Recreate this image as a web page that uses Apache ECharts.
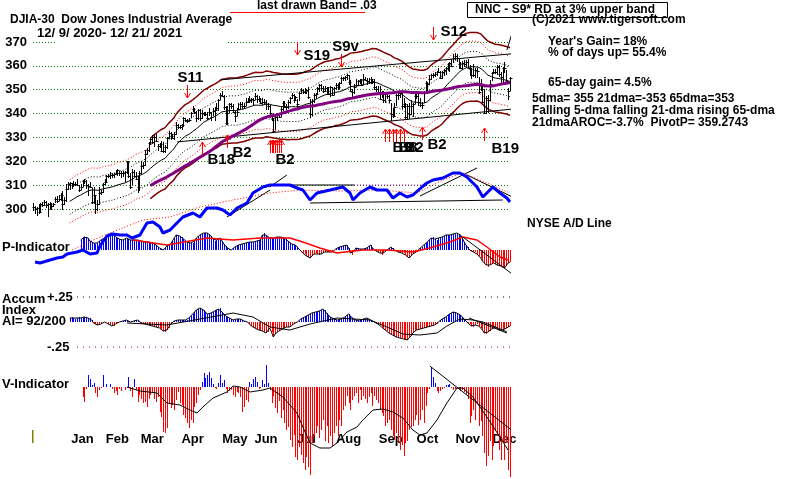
<!DOCTYPE html>
<html>
<head>
<meta charset="utf-8">
<script src="https://cdn.jsdelivr.net/npm/echarts@6/dist/echarts.min.js"></script>
<style>
  html, body { margin: 0; padding: 0; background: #fff; }
  #chart { width: 800px; height: 479px; }
</style>
</head>
<body>
<div id="chart"></div>
<script>
// DJIA daily bars, 12/9/2020 - 12/21/2021 (values /100)
const closes = [
  300.68,299.99,300.46,298.61,301.99,301.54,303.03,301.79,302.16,300.15,301.29,301.99,304.03,303.35,304.09,306.06,
  302.23,303.92,308.29,310.41,310.97,310.08,310.68,310.61,309.91,308.14,309.30,311.88,311.76,309.97,309.60,309.37,303.03,306.04,299.83,
  302.12,306.87,307.24,310.56,311.48,313.86,313.76,314.38,314.30,314.58,315.23,316.14,314.93,314.94,315.22,315.37,319.62,314.02,309.32,
  315.35,313.92,312.70,309.24,314.96,318.02,318.32,322.97,324.85,327.79,329.53,328.26,330.15,328.63,326.27,327.31,324.23,324.21,326.19,329.81,331.71,330.66,329.82,
  331.53,335.27,334.30,334.46,335.03,338.00,337.46,336.77,337.30,340.36,342.00,340.78,338.21,341.37,338.15,340.43,339.81,339.84,338.21,340.60,338.74,
  341.13,341.33,342.30,345.48,347.78,347.43,342.69,335.87,340.21,343.82,343.27,340.61,338.94,340.84,342.08,343.94,343.13,343.24,344.65,345.29,
  345.75,346.00,345.77,347.56,346.30,345.99,344.47,344.66,344.80,343.93,342.99,340.33,338.23,332.90,338.77,339.46,338.74,341.96,344.33,342.83,342.92,345.03,
  346.34,347.86,345.77,346.81,344.21,348.70,349.96,348.88,349.33,349.87,346.87,339.62,345.12,347.98,348.23,350.62,352.00,350.58,349.30,350.85,349.35,
  348.38,351.16,347.93,350.65,352.09,351.02,352.64,354.85,354.99,355.16,356.25,353.32,349.60,348.94,351.20,352.13,353.66,354.05,352.13,354.56,353.99,353.61,
  353.13,354.43,353.69,351.00,350.31,348.79,346.08,348.69,345.77,348.14,347.51,345.84,339.71,339.19,342.58,347.64,347.98,348.70,342.99,343.90,338.44,
  343.26,340.02,343.14,344.17,347.54,347.46,344.96,343.78,343.77,349.13,352.95,352.59,354.57,356.09,356.03,356.77,357.41,357.57,354.91,357.30,358.20,
  359.14,360.72,361.24,360.01,363.28,364.32,363.20,360.80,359.21,361.00,360.87,361.43,359.31,358.71,356.02,356.19,358.14,358.04,348.99,351.36,344.84,
  340.22,346.39,345.80,352.27,357.19,357.54,357.55,359.71,356.51,355.44,359.27,358.98,353.65,349.32,354.93
];
const highs = [
  301.9,300.7,300.5,301.6,302.0,302.4,303.3,302.8,302.3,302.4,302.0,302.0,304.6,305.2,305.4,306.4,
  307.2,304.5,310.0,310.7,311.0,310.6,311.3,310.9,312.3,309.7,310.2,311.9,312.1,311.8,309.9,311.0,308.5,309.0,305.6,
  303.2,308.7,307.5,310.6,312.3,313.9,314.2,315.2,314.7,314.6,316.0,316.2,315.5,315.3,315.6,315.5,319.8,319.6,314.5,
  316.2,316.1,315.0,313.5,315.3,319.5,319.1,324.3,325.1,327.8,329.5,330.4,330.5,331.1,326.9,327.4,327.9,327.6,326.5,329.9,332.3,331.7,331.1,
  331.7,336.2,335.4,335.0,335.2,338.0,337.6,337.5,337.6,340.4,342.6,341.9,340.8,341.4,341.6,341.0,340.3,340.2,340.2,342.0,340.1,
  342.0,342.4,344.1,345.6,348.2,349.0,347.2,342.7,342.9,344.1,343.9,343.4,340.5,342.1,344.0,344.4,344.6,344.2,346.0,346.0,
  347.0,346.3,346.1,348.0,347.3,347.0,346.3,346.0,345.5,345.3,344.1,343.0,338.9,337.6,339.3,339.9,340.0,342.7,344.7,345.0,343.4,345.1,
  346.6,348.1,347.6,347.0,345.8,348.8,350.2,349.9,350.2,350.0,350.6,345.8,345.8,348.0,348.2,350.6,352.0,352.0,351.0,351.2,350.7,
  350.8,351.2,350.7,350.9,352.3,352.0,353.0,355.0,355.1,355.2,356.3,355.6,353.6,349.8,352.0,354.0,353.8,354.2,354.1,356.0,354.9,354.3,
  354.5,354.8,354.2,354.2,351.2,351.1,351.1,349.2,348.9,348.2,348.0,347.5,344.0,342.1,344.1,347.7,348.2,349.0,348.2,346.0,344.2,
  343.5,344.0,345.1,344.2,348.2,348.1,348.5,345.9,344.5,349.2,353.2,352.9,355.7,356.3,356.5,356.8,357.6,358.6,357.3,357.4,358.2,
  359.2,360.9,361.3,362.4,364.4,365.1,364.6,362.8,361.2,361.5,361.9,362.0,362.3,360.0,358.5,360.2,358.6,358.7,355.1,354.2,351.0,
  350.0,347.1,347.2,353.6,357.2,358.2,358.1,359.8,360.0,356.8,359.3,361.3,357.8,350.3,355.0
];
const lows = [
  299.6,298.4,297.5,298.5,299.0,301.1,301.5,300.9,297.0,300.1,300.1,301.3,302.8,303.0,303.9,303.8,
  300.1,301.9,303.4,308.4,308.4,308.9,309.7,310.0,309.9,307.6,308.5,309.5,310.9,308.8,306.0,309.3,302.6,302.6,298.3,
  299.6,302.1,306.2,307.3,310.6,311.5,313.3,313.2,313.3,313.4,314.5,314.2,314.1,313.6,313.8,311.7,314.9,313.6,308.7,
  310.6,313.7,312.4,307.1,307.9,314.9,317.0,318.5,322.9,324.3,327.1,327.8,326.6,328.3,324.7,325.9,324.2,324.1,323.7,325.7,329.8,329.4,329.6,
  329.4,331.6,334.0,334.1,333.6,334.9,336.7,336.6,336.8,338.4,341.2,340.4,336.7,337.6,337.4,338.2,339.4,339.5,337.9,339.3,337.1,
  339.3,337.3,341.7,341.4,345.9,347.3,341.9,335.8,335.7,340.6,342.4,340.5,336.9,339.3,341.9,342.3,342.4,342.3,343.4,344.7,
  345.0,345.0,343.6,345.9,345.0,345.3,344.4,344.2,344.0,341.9,341.9,338.4,337.5,332.8,333.4,337.3,338.4,339.0,341.6,342.6,342.0,342.2,
  344.6,346.6,344.7,345.5,342.8,345.5,348.6,348.5,348.6,348.8,346.7,338.4,339.5,344.9,346.5,348.2,349.6,349.9,349.2,349.3,348.8,
  348.0,347.3,347.8,348.0,350.5,350.1,350.9,352.8,354.1,354.1,354.6,352.3,349.6,346.9,348.8,351.5,351.8,353.0,352.0,352.4,353.9,352.6,
  353.0,352.9,352.9,350.3,349.3,348.7,346.0,346.8,345.0,344.9,346.5,345.0,337.4,338.6,339.4,343.6,346.0,347.0,342.5,342.9,338.3,
  337.7,338.1,340.0,338.9,344.5,346.4,343.7,343.2,342.4,345.0,349.3,350.0,352.3,354.5,355.5,355.8,356.0,357.3,354.9,354.9,356.1,
  356.7,358.3,357.9,359.9,361.5,362.9,362.0,359.3,359.2,359.1,359.8,359.9,359.3,356.2,354.8,355.9,355.4,355.2,348.8,349.7,344.8,
  340.2,340.6,340.5,345.8,354.0,356.9,356.8,356.7,355.6,353.1,353.0,357.5,353.4,346.1,349.9
];

const monthNames = ['Jan','Feb','Mar','Apr','May','Jun','Jul','Aug','Sep','Oct','Nov','Dec'];
const monthDay = [27, 46, 65, 87, 110, 127, 149, 172, 195, 215, 237, 257];

// P-Indicator (from day 26)
const pInd = [
  10,12,13,13,12,9,8,7,6,7, 9,10,11,12,13,15,16,17,15,13, 12,11,10,10,11,12,11,10,10,10,
  10,10,10,9,9,8,8,8,7,7, 6,5,3,2,1,0,2,4,5,6, 9,12,15,14,14,13,11,9,8,7,
  7,7,9,12,14,15,16,17,17,17, 16,14,11,9,10,11,12,9,6,4, 2,1,0,2,3,4,5,5,6,6,
  7,7,8,8,8,9,9,10,10,15, 17,15,13,12,12,12,13,13,13,13, 12,12,11,9,7,6,5,5,3,1,
  0,-3,-4,-6,-7,-8,-6,-4,-3,-4, -5,-4,-3,-2,-2,-2,-2,-2,0,1, 2,3,3,4,5,5,2,-3,-5,-1,
  2,2,1,0,1,2,2,4,5,2, 0,-1,-2,-3,-5,-3,-1,0,2,3, 2,0,-1,-2,-2,-3,-3,-5,-7,-8,
  -6,-4,-3,-2,0,2,3,5,7,8, 10,12,13,11,10,12,13,13,14,15, 15,15,15,16,16,17,16,15,12,8,
  5,3,0,-1,-2,-2,-4,-6,-8,-11, -13,-15,-17,-15,-13,-13,-14,-15,-15,-16, -17,-18,-16,-13,-12
];
const pMaDay = [54.5,73,94.8,109,123.7,129.2,140,147.1,156.4,165.7,179.8,192.9,207.1,216.3,227.2,234.3,242,247.4,254.5,258.9];
const pMaVal = [10,5,12,10,12,12,12,8,2,-3,0,0,-2,2,8,13,10,3,-7,-10];

// Accumulation Index (from day 20)
const accum = [
  .04,.05,.04,.03,.04,.05,.04,.04,.05,.04, .04,.04,.02,-.01,-.02,-.03,-.03,-.02,-.01,0,
  0,-.02,-.03,-.04,-.04,-.02,-.01,0,.01,.01, .02,.02,.01,0,0,.01,.02,.02,0,-.01,
  -.02,-.02,-.03,-.03,-.04,-.04,-.04,-.05,-.05,-.06, -.07,-.09,-.1,-.08,-.06,-.02,0,.01,.02,.02,
  .02,.02,.02,.02,.02,.04,.06,.08,.1,.12, .13,.14,.13,.12,.1,.08,.08,.09,.1,.11,
  .12,.13,.14,.1,.08,.06,.05,.04,.03,.02, .02,.03,.03,.03,.02,.01,0,0,-.02,-.04,
  -.05,-.06,-.07,-.08,-.08,-.09,-.1,-.11,-.1,-.06, -.1,-.15,-.12,-.1,-.09,-.08,-.07,-.06,-.05,-.05,
  -.05,-.03,-.02,0,0,.01,.03,.04,.05,.06, .07,.08,.09,.1,.1,.1,.11,.12,.13,.12,
  .09,.07,.05,.04,.03,.02,.02,.02,.03,.04, .05,.07,.08,.06,.04,.03,.02,.01,.01,.02,
  .03,.03,.04,.03,.02,.01,0,-.01,-.02,-.03, -.05,-.07,-.08,-.09,-.11,-.12,-.13,-.14,-.15,-.15,
  -.16,-.16,-.17,-.17,-.18,-.16,-.14,-.11,-.09,-.08, -.07,-.07,-.06,-.06,-.05,-.05,-.04,-.04,-.03,-.03,
  -.02,0,.02,.03,.04,.05,.07,.08,.09,.1, .1,.09,.08,.07,.05,.03,.01,-.01,-.02,-.04,
  -.05,-.03,-.02,-.04,-.06,-.08,-.11,-.12,-.1,-.09, -.07,-.06,-.05,-.06,-.08,-.09,-.08,-.07,-.06,-.05,
  -.04
];
const aiMaDay = [51.2,73,91,109,119.9,129.2,140,151,165.7,183.7,192.9,201.6,210.9,220.2,225.6,232.7,239.8,245.2,256.1,258.3];
const aiMaVal = [-0.01,-0.03,0.03,0.09,0.05,-0.05,-0.08,-0.02,0.04,0.02,-0.05,-0.12,-0.13,-0.11,-0.04,0.03,0.02,0,-0.08,-0.1];

// V-Indicator (from day 27)
const vInd = [
  -10,-15,-2,12,8,2,4,-6,-10,-3, -1,12,0,3,0,3,-2,-6,-4,-8, -2,-4,0,-3,-1,10,-4,-10,8,-3,
  -15,-8,-12,-16,-15,-20,-12,-8,-5,-12, -15,-10,-25,-30,-45,-46,-41,-16,-21,-18,
  -23,-13,-5,-16,-18,-28,-31,-36,-41,-33, -36,-20,-16,-8,-3,5,14,9,12,15,
  9,3,-1,-2,4,12,4,7,-2,-6, -4,-3,-8,-10,-5,-6,-10,-25,-20,-13, -15,5,3,8,10,5,-2,-1,7,3,
  22,4,-3,-16,-9,-21,-26,-14,-31,-23, -36,-43,-40,-53,-60,-48,-70,-73,-60,-68,
  -76,-83,-70,-80,-88,-56,-49,-46,-39,-51, -43,-33,-54,-39,-56,-49,-59,-46,-39,-49,
  -33,-39,-23,-19,-9,-16,-23,-13,-9,-6, -16,-3,-13,-9,-12,-16,-10,-6,-19,-9,
  -13,-16,-23,-26,-29,-39,-36,-33,-43,-49, -53,-46,-56,-63,-58,-69,-56,-54,-43,-40,
  -39,-33,-28,-38,-33,-23,-36,-19,-6,-2, 20,10,4,-4,-6,-4,-2,-1,2,2,
  3,-1,-3,-2,-1,-2,-4,-3,-5,-7, -12,-36,-29,-23,-33,-16,-39,-34,-49,-66,
  -79,-69,-54,-73,-59,-44,-49,-63,-73,-54, -73,-56,-83,-90
];
const vMaDay = [51.2,58.3,67.6,73,80.1,85.6,89.4,92.6,98.1,105.7,109,112.8,118.3,125.3,129.2,136.2,143.9,147.1,151,156.4,
  161.9,165.7,171.1,176.6,179.8,185.3,190.7,196.2,201.6,207.1,210.9,214.7,220.2,225.6,231.1,234.3,239.8,247.4,254.5,258.9];
const vMaVal = [0,-4,-6,-16,-18,-23,-26,-20,-11,-5,1,0,-5,-3,-1,-10,-26,-40,-56,-61,
  -61,-56,-45,-40,-33,-23,-22,-25,-31,-43,-48,-46,-33,-16,-1,-1,-10,-30,-50,-63];

// NYSE A/D line (relative level)
const adDay = [1.1,3.8,9.3,13.1,16.3,18.5,24,27.2,31.1,34.9,36.5,40.3,43.6,47.4,51.2,54,58.3,62.1,65.4,69.2,
  70.8,74.7,76.3,81.7,87.2,91,94.8,100.3,103.5,107.4,111.2,116.6,119.9,125.3,129.2,133,140,143.9,147.1,151,
  154.8,161.9,168.9,172.8,174.4,178.2,183.7,187.5,192.9,196.2,200,203.8,207.1,212,214.7,218,223.4,228.9,232.7,236.5,
  242,245.2,249,250.7,254.5,258.3,260];
const adVal = [8,7,10,12,13,16,18,20,16,17,24,34,36,35,35,32,35,47,48,43,
  37,40,43,53,57,53,62,62,60,55,62,67,77,83,85,85,85,82,80,70,
  77,80,83,77,70,77,83,80,80,72,77,73,75,83,87,90,92,97,97,93,
  83,73,80,83,77,72,68];
const adMaDay = [21.3,36.5,59.9,74.7,91,109,129.2,145.5,167.3,189.1,209.3,223.4,234.3,243.6,256.1,260];
const adMaVal = [20,33,50,53,63,70,77,80,79,80,77,90,97,90,80,77];

// hand drawn trend lines [day, value]
const priceTrends = [[[101.9,354.1],[271.9,365.8]], [[78.5,328.1],[273.6,342.8]], [[263.8,380.5],[258.3,366.6]]];
const adTrends = [[[129.2,85],[175,85]], [[151,67],[256,70]], [[210.9,74],[242,102]], [[129,83],[138.4,95]], [[105.7,53],[129.2,80]], [[236.5,95],[281.7,55]]];
const adResist = [[175,85],[212.5,85]];
const pTrend = [[234.3,13],[267,-32]];
const aiTrend = [[237.6,0.04],[258.3,-0.11]];
const vTrend = [[216.3,21],[281.7,-73]];

// signals: day, price level at arrow tip, +1 buy / -1 sell
const sigDay = [84,144,168,218,92,106,129,130,131,132,133,134,135,192,194,196,198,200,202,212,246];
const sigLevel = [346.5,364.6,359.5,370.8,328.1,331.0,328.9,328.9,328.9,328.9,328.9,328.9,328.9,333.5,333.5,333.5,333.5,333.5,333.5,334.4,334.0];
const sigDir = [-1,-1,-1,-1,1,1,1,1,1,1,1,1,1,1,1,1,1,1,1,1,1];
// label per signal index: text, dx, dy, align
const sigLabels = {
  0: ['S11', 3, -20, 'center'], 1: ['S19', 6, 1, 'left'], 2: ['S9v', 4, -20, 'center'], 3: ['S12', 7, -8, 'left'],
  4: ['B18', 5, 18, 'left'], 5: ['B2', 5, 18, 'left'], 8: ['B2', 2, 20, 'left'],
  14: ['B9', 3, 19, 'left'], 15: ['B8', 5, 19, 'left'], 17: ['B2', 4, 19, 'left'],
  19: ['B2', 5, 18, 'left'], 20: ['B19', 7, 21, 'left']
};

const FONT = '"Liberation Sans", Arial, sans-serif';
const pad = (n, arr) => new Array(n).fill(null).concat(arr);
const pairs = (arr) => arr.map((v, i) => [i, v]);
const zip = (xs, ys) => xs.map((x, i) => [x, ys[i]]);
const sma = (src, n) => src.map((_, i) => i < n - 1 ? null : src.slice(i - n + 1, i + 1).reduce((a, b) => a + b, 0) / n);

const ma21 = sma(closes, 21);
const ma65 = sma(closes, 65);
const band = (k, from) => ma21.map((v, i) => v == null || i < from ? null : v * k);

function lineS(data, g, color, width, type, z) {
  return {
    type: 'line', xAxisIndex: g, yAxisIndex: g, data, showSymbol: false, symbol: 'none',
    clip: false, silent: true, z: z || 2,
    lineStyle: { color, width, type: type || 'solid' }
  };
}
// 1px histogram, blue above zero, red below
function histS(start, vals, g) {
  return {
    type: 'custom', xAxisIndex: g, yAxisIndex: g, silent: true, z: 2,
    data: vals.map((v, i) => [start + i, v]),
    renderItem: (params, api) => {
      const v = api.value(1);
      if (!v) return null;
      const top = api.coord([api.value(0), v]);
      const base = api.coord([api.value(0), 0]);
      const x = Math.round(top[0]) + 0.5;
      return {
        type: 'line',
        shape: { x1: x, y1: Math.round(base[1]), x2: x, y2: Math.round(top[1]) },
        style: { stroke: v > 0 ? '#0000ff' : '#ff0000', lineWidth: 1 }
      };
    }
  };
}

const chart = echarts.init(document.getElementById('chart'));

const series = [];
// price bands and averages
series.push(lineS(pairs(band(1.04, 64)), 0, '#800000', 1.5));
series.push(lineS(pairs(band(0.96, 64)), 0, '#800000', 1.5));
series.push(lineS(pairs(band(1.03, 20)), 0, '#ff0000', 1, [1, 2]));
series.push(lineS(pairs(band(0.97, 20)), 0, '#ff0000', 1, [1, 2]));
series.push(lineS(pairs(band(1.018, 20)), 0, '#000', 1, [1, 2]));
series.push(lineS(pairs(band(0.982, 20)), 0, '#000', 1, [1, 2]));
series.push(lineS(pairs(ma21), 0, '#000', 1));
series.push(lineS(pairs(ma65), 0, '#800080', 3, 'solid', 4));
priceTrends.forEach(t => series.push(lineS(t, 0, '#000', 1)));

// high-low-close bars
series.push({
  type: 'custom', xAxisIndex: 0, yAxisIndex: 0, silent: true, z: 3,
  data: closes.map((c, i) => [i, highs[i], lows[i], c]),
  encode: { x: 0, y: [1, 2, 3] },
  renderItem: (params, api) => {
    const i = api.value(0);
    const hi = api.coord([i, api.value(1)]);
    const lo = api.coord([i, api.value(2)]);
    const cl = api.coord([i, api.value(3)]);
    const x = Math.round(hi[0]) + 0.5;
    const cy = Math.round(cl[1]) + 0.5;
    return {
      type: 'group', children: [
        { type: 'line', shape: { x1: x, y1: Math.round(lo[1]) + 1, x2: x, y2: Math.round(hi[1]) - 1 }, style: { stroke: '#000', lineWidth: 1 } },
        { type: 'line', shape: { x1: x - 1, y1: cy, x2: x + 2, y2: cy }, style: { stroke: '#000', lineWidth: 1 } }
      ]
    };
  }
});

// signal arrows
series.push({
  type: 'custom', xAxisIndex: 0, yAxisIndex: 0, silent: true, z: 6,
  data: sigDay.map((d, i) => [d, sigLevel[i], sigDir[i]]),
  renderItem: (params, api) => {
    const p = api.coord([api.value(0), api.value(1)]);
    const up = api.value(2) > 0;
    const x = Math.round(p[0]) + 0.5, y = Math.round(p[1]);
    const tail = up ? y + 13 : y - 13;
    const hy = up ? y + 5 : y - 5;
    const kids = [
      { type: 'line', shape: { x1: x, y1: y, x2: x, y2: tail }, style: { stroke: '#ff0000', lineWidth: 1 } },
      { type: 'polyline', shape: { points: [[x - 3, hy], [x, y], [x + 3, hy]] }, style: { stroke: '#ff0000', fill: null, lineWidth: 1 } }
    ];
    const lab = sigLabels[params.dataIndex];
    if (lab) {
      kids.push({
        type: 'text',
        style: {
          text: lab[0], x: x + lab[1], y: y + lab[2], fill: '#000',
          font: 'bold 15px ' + FONT, align: lab[3], verticalAlign: 'middle',
          textAlign: lab[3], textVerticalAlign: 'middle'
        }
      });
    }
    return { type: 'group', children: kids };
  }
});

// A/D line panel
adTrends.forEach(t => series.push(lineS(t, 1, '#000', 1)));
series.push(lineS(adResist, 1, '#c000c0', 1, [1, 2]));
series.push(lineS(zip(adMaDay, adMaVal), 1, '#ff0000', 1, [1, 2]));
series.push(lineS(zip(adDay, adVal), 1, '#0000ff', 3, 'solid', 5));

// P-Indicator
series.push(histS(26, pInd, 2));
series.push(lineS(pairs(pad(26, pInd)), 2, '#000', 1));
series.push(lineS(zip(pMaDay, pMaVal), 2, '#ff0000', 1.5));
series.push(lineS(pTrend, 2, '#000', 1));

// Accumulation index
series.push(lineS([[24, 0.25], [260, 0.25]], 3, '#000', 1, [1, 5]));
series.push(lineS([[24, -0.25], [260, -0.25]], 3, '#a000a0', 1, [1, 5]));
series.push(histS(20, accum, 3));
series.push(lineS(pairs(pad(20, accum)), 3, '#000', 1));
series.push(lineS(zip(aiMaDay, aiMaVal), 3, '#000', 1));
series.push(lineS(aiTrend, 3, '#000', 1));

// V-Indicator
series.push(histS(27, vInd, 4));
series.push(lineS(zip(vMaDay, vMaVal), 4, '#000', 1));
series.push(lineS(vTrend, 4, '#000', 1));

const gridBox = (top, height) => ({ left: 33, width: 477, top, height });
const hiddenX = (g) => ({ type: 'value', gridIndex: g, min: 0, max: 260, show: false });

const txt = (text, x, y, size, extra) => Object.assign({
  type: 'text', z: 50,
  style: {
    text, x, y, fill: '#000', font: 'bold ' + size + 'px ' + FONT,
    textVerticalAlign: 'middle', verticalAlign: 'middle'
  }
}, extra || {});

const option = {
  animation: false,
  backgroundColor: '#fff',
  grid: [gridBox(42, 167), gridBox(170, 100), gridBox(220, 60), gridBox(297, 50), gridBox(357, 120), gridBox(0, 428)],
  xAxis: [hiddenX(0), hiddenX(1), hiddenX(2), hiddenX(3), hiddenX(4), {
    type: 'category', gridIndex: 5, boundaryGap: false,
    data: closes.map((_, i) => String(i)),
    axisLine: { show: false }, axisTick: { show: false }, splitLine: { show: false },
    axisLabel: {
      interval: (idx) => monthDay.includes(idx),
      formatter: (v, idx) => monthNames[monthDay.indexOf(idx)] || '',
      color: '#000', fontWeight: 'bold', fontSize: 13, fontFamily: FONT, margin: 5
    }
  }],
  yAxis: [
    {
      gridIndex: 0, type: 'value', min: 300, max: 370, interval: 10,
      axisLine: { show: false }, axisTick: { show: false },
      axisLabel: { color: '#000', fontWeight: 'bold', fontSize: 13, fontFamily: FONT, margin: 6 },
      splitLine: { lineStyle: { color: '#008000', width: 1, type: [1, 2] } }
    },
    { gridIndex: 1, type: 'value', min: 0, max: 100, show: false },
    { gridIndex: 2, type: 'value', min: -30, max: 30, show: false },
    { gridIndex: 3, type: 'value', min: -0.25, max: 0.25, show: false },
    { gridIndex: 4, type: 'value', min: -90, max: 30, show: false },
    { gridIndex: 5, type: 'value', min: 0, max: 1, show: false }
  ],
  series,
  graphic: [
    { type: 'rect', z: 40, shape: { x: 55, y: 39, width: 173, height: 6 }, style: { fill: '#fff' } },
    { type: 'line', z: 40, shape: { x1: 230, y1: 12.5, x2: 365, y2: 12.5 }, style: { stroke: '#ff0000', lineWidth: 1 } },
    txt('last drawn Band= .03', 257, 6, 12),
    txt('DJIA-30  Dow Jones Industrial Average', 10, 20, 12),
    txt('12/ 9/ 2020- 12/ 21/ 2021', 37, 33, 13),
    txt('(C)2021 www.tigersoft.com', 532, 20, 12),
    { type: 'rect', z: 45, shape: { x: 467.5, y: 2.5, width: 200, height: 15 }, style: { fill: '#fff', stroke: '#000', lineWidth: 1 } },
    txt('NNC - S9* RD at 3% upper band', 475, 10, 12),
    txt("Year's Gain= 18%", 548, 42, 12),
    txt('% of days up= 55.4%', 548, 53, 12),
    txt('65-day gain= 4.5%', 548, 83, 12),
    txt('5dma= 355 21dma=-353 65dma=353', 532, 99, 12),
    txt('Falling 5-dma falling 21-dma rising 65-dma', 532, 111, 12),
    txt('21dmaAROC=-3.7%  PivotP= 359.2743', 532, 123, 12),
    txt('NYSE A/D Line', 527, 224, 12),
    txt('P-Indicator', 2, 247, 13),
    txt('Accum', 2, 299, 13),
    txt('Index', 2, 310, 13),
    txt('AI= 92/200', 2, 321, 13),
    txt('+.25', 47, 297, 13),
    txt('-.25', 47, 347, 13),
    txt('V-Indicator', 2, 384, 13),
    { type: 'rect', z: 40, shape: { x: 32, y: 430, width: 1.5, height: 13 }, style: { fill: '#808000' } }
  ]
};

chart.setOption(option);
</script>
</body>
</html>
